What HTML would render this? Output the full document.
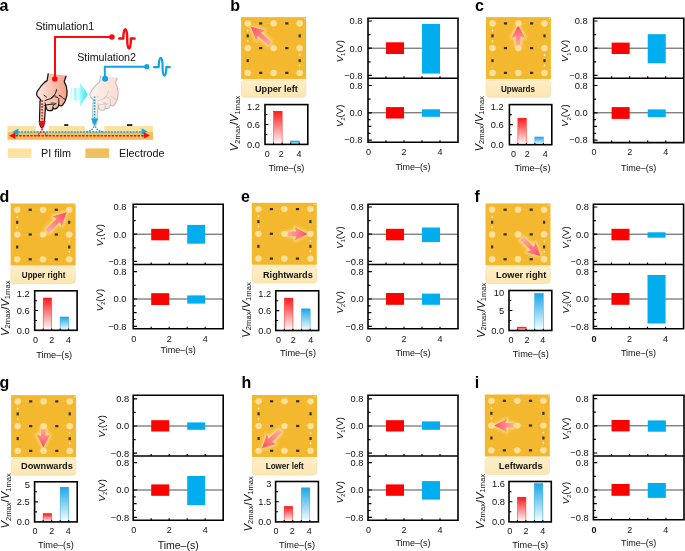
<!DOCTYPE html>
<html><head><meta charset="utf-8"><title>Figure</title>
<style>html,body{margin:0;padding:0;background:#fff;overflow:hidden;width:685px;height:551px;}svg{display:block;}</style></head>
<body><svg width="685" height="551" viewBox="0 0 685 551">
<defs>
<linearGradient id="gRed" x1="0" y1="0" x2="0" y2="1"><stop offset="0" stop-color="#FF1A1A"/><stop offset="1" stop-color="#FFFFFF"/></linearGradient>
<linearGradient id="gBlue" x1="0" y1="0" x2="0" y2="1"><stop offset="0" stop-color="#1AA7E6"/><stop offset="1" stop-color="#FFFFFF"/></linearGradient>
<linearGradient id="gArrow" x1="0" y1="0" x2="1" y2="0"><stop offset="0" stop-color="#FFA9A3"/><stop offset="0.55" stop-color="#FF7A80"/><stop offset="1" stop-color="#FF4A62"/></linearGradient>
<linearGradient id="gLabel" x1="0" y1="0" x2="0" y2="1"><stop offset="0" stop-color="#FEEFC9"/><stop offset="1" stop-color="#FCE6B0"/></linearGradient>
<filter id="glow" x="-50%" y="-50%" width="200%" height="200%"><feGaussianBlur stdDeviation="1.6"/></filter>
<linearGradient id="gHand1" x1="0" y1="0" x2="1" y2="0"><stop offset="0" stop-color="#FDE6DA"/><stop offset="1" stop-color="#F5A187"/></linearGradient>
<linearGradient id="gHand2" x1="0" y1="0" x2="1" y2="0"><stop offset="0" stop-color="#FEF4EE"/><stop offset="1" stop-color="#FCDCCF"/></linearGradient>
<linearGradient id="gChev" x1="0" y1="0" x2="1" y2="0"><stop offset="0" stop-color="#C8FFFF"/><stop offset="1" stop-color="#22E5F5"/></linearGradient>
</defs>
<rect width="685" height="551" fill="#fff"/>
<text x="230.2" y="10.9" font-family="'Liberation Sans', Arial, Helvetica, sans-serif" font-weight="bold" font-size="16" fill="#000">b</text>
<rect x="241.1" y="17.1" width="65" height="62" fill="#F4B82F"/>
<g stroke="#F7C24C" stroke-width="0.4" fill="none"><rect x="247.7" y="23.4" width="52" height="49.5"/><line x1="247.7" y1="48.1" x2="299.7" y2="48.1"/></g>
<g fill="#FFF4D0"><circle cx="247.7" cy="30.6" r="0.85"/><circle cx="247.7" cy="40.9" r="0.85"/><circle cx="299.7" cy="55.1" r="0.85"/><circle cx="299.7" cy="65.3" r="0.85"/><circle cx="304.6" cy="18.6" r="0.6"/></g>
<rect x="259.1" y="22.3" width="3.2" height="2.2" fill="#2C313B"/>
<rect x="285.2" y="22.3" width="3.2" height="2.2" fill="#2C313B"/>
<rect x="259.1" y="47" width="3.2" height="2.2" fill="#2C313B"/>
<rect x="285.2" y="47" width="3.2" height="2.2" fill="#2C313B"/>
<rect x="259.1" y="71.8" width="3.2" height="2.2" fill="#2C313B"/>
<rect x="285.2" y="71.8" width="3.2" height="2.2" fill="#2C313B"/>
<rect x="246.6" y="34.4" width="2.2" height="3" fill="#2C313B"/>
<rect x="246.6" y="59.1" width="2.2" height="3" fill="#2C313B"/>
<rect x="298.6" y="34.4" width="2.2" height="3" fill="#2C313B"/>
<rect x="298.6" y="59.1" width="2.2" height="3" fill="#2C313B"/>
<g transform="translate(270,43.7) rotate(-138.65)"><polygon points="0,-2.3 14.18,-2.3 12.58,-6.7 25.58,0 12.58,6.7 14.18,2.3 0,2.3" fill="#FFE7A0" stroke="#FFE7A0" stroke-width="2.2" stroke-linejoin="round" opacity="0.95" filter="url(#glow)"/><polygon points="0,-2.3 14.18,-2.3 12.58,-6.7 25.58,0 12.58,6.7 14.18,2.3 0,2.3" fill="url(#gArrow)"/></g>
<ellipse cx="247.7" cy="23.4" rx="3.3" ry="3.1" fill="#FDE09C"/>
<ellipse cx="273.6" cy="23.4" rx="3.3" ry="3.1" fill="#FDE09C"/>
<ellipse cx="299.7" cy="23.4" rx="3.3" ry="3.1" fill="#FDE09C"/>
<ellipse cx="247.7" cy="48.1" rx="3.3" ry="3.1" fill="#FDE09C"/>
<ellipse cx="273.6" cy="48.1" rx="3.3" ry="3.1" fill="#FDE09C"/>
<ellipse cx="299.7" cy="48.1" rx="3.3" ry="3.1" fill="#FDE09C"/>
<ellipse cx="247.7" cy="72.9" rx="3.3" ry="3.1" fill="#FDE09C"/>
<ellipse cx="273.6" cy="72.9" rx="3.3" ry="3.1" fill="#FDE09C"/>
<ellipse cx="299.7" cy="72.9" rx="3.3" ry="3.1" fill="#FDE09C"/>
<rect x="241.4" y="80.3" width="64.4" height="16.9" rx="3" ry="3" fill="url(#gLabel)" stroke="#EFD9A6" stroke-width="0.6"/>
<text x="254.9" y="91.8" font-family="'Liberation Sans', Arial, Helvetica, sans-serif" font-weight="bold" font-size="9" textLength="42.9" lengthAdjust="spacingAndGlyphs" fill="#111">Upper left</text>
<rect x="273.56" y="111.2" width="8.56" height="33.2" fill="url(#gRed)" stroke="#FF2020" stroke-width="0.5"/>
<line x1="273.56" y1="111.6" x2="282.12" y2="111.6" stroke="#FF2020" stroke-width="0.8"/>
<rect x="290.68" y="141" width="8.56" height="3.4" fill="url(#gBlue)" stroke="#20A8E8" stroke-width="0.5"/>
<line x1="290.68" y1="141.4" x2="299.24" y2="141.4" stroke="#20A8E8" stroke-width="0.8"/>
<path d="M265,114.55h2.4 M265,124.5h3.4 M265,134.45h2.4 M273.56,144.4v-1.8 M282.12,144.4v-1.8 M290.68,144.4v-1.8 M299.24,144.4v-1.8" stroke="#000" stroke-width="1.1" fill="none"/>
<rect x="265" y="104.6" width="42.8" height="39.8" fill="none" stroke="#000" stroke-width="1.6"/>
<text x="260" y="110.4" font-family="'Liberation Sans', Arial, Helvetica, sans-serif" font-size="9.3" text-anchor="end" fill="#111" >1.2</text>
<text x="260" y="127.8" font-family="'Liberation Sans', Arial, Helvetica, sans-serif" font-size="9.3" text-anchor="end" fill="#111" >0.6</text>
<text x="260" y="147.8" font-family="'Liberation Sans', Arial, Helvetica, sans-serif" font-size="9.3" text-anchor="end" fill="#111" >0.0</text>
<text x="267.3" y="156.9" font-family="'Liberation Sans', Arial, Helvetica, sans-serif" font-size="9" text-anchor="middle" fill="#111" >0</text>
<text x="281.22" y="156.9" font-family="'Liberation Sans', Arial, Helvetica, sans-serif" font-size="9" text-anchor="middle" fill="#111" >2</text>
<text x="299.04" y="156.9" font-family="'Liberation Sans', Arial, Helvetica, sans-serif" font-size="9" text-anchor="middle" fill="#111" >4</text>
<text x="286.4" y="171" font-family="'Liberation Sans', Arial, Helvetica, sans-serif" font-size="9.2" text-anchor="middle" fill="#111" >Time–(s)</text>
<text transform="translate(238.3,123.5) rotate(-90)" text-anchor="middle" font-family="'Liberation Sans', Arial, Helvetica, sans-serif" font-size="11.3" fill="#111"><tspan font-style="italic">V</tspan><tspan font-size="7.6" dy="1.2">2max</tspan><tspan dy="-1.2">/</tspan><tspan font-style="italic">V</tspan><tspan font-size="7.6" dy="1.2">1max</tspan></text>
<line x1="368" y1="48.2" x2="458" y2="48.2" stroke="#3a3a3a" stroke-width="0.9"/>
<line x1="368" y1="112.8" x2="458" y2="112.8" stroke="#3a3a3a" stroke-width="0.9"/>
<rect x="386" y="42.3" width="18" height="11.7" fill="#FF0000"/>
<rect x="422" y="23.9" width="18" height="49.7" fill="#00AEEF"/>
<rect x="386" y="107.1" width="18" height="11.4" fill="#FF0000"/>
<rect x="422" y="109.3" width="18" height="7.5" fill="#00AEEF"/>
<path d="M368,21h3.9 M368,34.6h2.5 M368,48.2h3.9 M368,61.8h2.5 M368,75.4h3.9 M368,85.5h3.9 M368,99.15h2.5 M368,112.8h3.9 M368,119.62h2.5 M368,126.45h3.4 M368,133.28h2.5 M368,140.1h3.9 M386,78.2v-2 M386,142.2v-2 M404,78.2v-2 M404,142.2v-2 M422,78.2v-2 M422,142.2v-2 M440,78.2v-2 M440,142.2v-2" stroke="#000" stroke-width="1.2" fill="none"/>
<path d="M368,18.2H458V142.2H368Z M368,78.2H458" stroke="#000" stroke-width="1.6" fill="none"/>
<text x="362.5" y="24.3" font-family="'Liberation Sans', Arial, Helvetica, sans-serif" font-size="9.3" text-anchor="end" fill="#111" >0.8</text>
<text x="362.5" y="51.5" font-family="'Liberation Sans', Arial, Helvetica, sans-serif" font-size="9.3" text-anchor="end" fill="#111" >0.0</text>
<text x="362.5" y="78.7" font-family="'Liberation Sans', Arial, Helvetica, sans-serif" font-size="9.3" text-anchor="end" fill="#111" >−0.8</text>
<text x="362.5" y="88.8" font-family="'Liberation Sans', Arial, Helvetica, sans-serif" font-size="9.3" text-anchor="end" fill="#111" >0.8</text>
<text x="362.5" y="116.1" font-family="'Liberation Sans', Arial, Helvetica, sans-serif" font-size="9.3" text-anchor="end" fill="#111" >0.0</text>
<text x="362.5" y="143.4" font-family="'Liberation Sans', Arial, Helvetica, sans-serif" font-size="9.3" text-anchor="end" fill="#111" >−0.8</text>
<text transform="translate(342.5,51.2) rotate(-90)" text-anchor="middle" font-family="'Liberation Sans', Arial, Helvetica, sans-serif" font-size="9.6" fill="#111"><tspan font-style="italic">V</tspan><tspan font-size="5.6" dy="2.2">1</tspan><tspan dy="-2.2">(V)</tspan></text>
<text transform="translate(342.5,115.8) rotate(-90)" text-anchor="middle" font-family="'Liberation Sans', Arial, Helvetica, sans-serif" font-size="9.6" fill="#111"><tspan font-style="italic">V</tspan><tspan font-size="5.6" dy="2.2">2</tspan><tspan dy="-2.2">(V)</tspan></text>
<text x="368.5" y="155" font-family="'Liberation Sans', Arial, Helvetica, sans-serif" font-size="9" text-anchor="middle" fill="#111" >0</text>
<text x="404" y="155" font-family="'Liberation Sans', Arial, Helvetica, sans-serif" font-size="9" text-anchor="middle" fill="#111" >2</text>
<text x="440" y="155" font-family="'Liberation Sans', Arial, Helvetica, sans-serif" font-size="9" text-anchor="middle" fill="#111" >4</text>
<text x="413" y="169.6" font-family="'Liberation Sans', Arial, Helvetica, sans-serif" font-size="9" text-anchor="middle" fill="#111" >Time–(s)</text>
<text x="475" y="11.3" font-family="'Liberation Sans', Arial, Helvetica, sans-serif" font-weight="bold" font-size="16" fill="#000">c</text>
<rect x="485.9" y="17.1" width="65" height="62" fill="#F4B82F"/>
<g stroke="#F7C24C" stroke-width="0.4" fill="none"><rect x="492.5" y="23.4" width="52" height="49.5"/><line x1="492.5" y1="48.1" x2="544.5" y2="48.1"/></g>
<g fill="#FFF4D0"><circle cx="492.5" cy="30.6" r="0.85"/><circle cx="492.5" cy="40.9" r="0.85"/><circle cx="544.5" cy="55.1" r="0.85"/><circle cx="544.5" cy="65.3" r="0.85"/><circle cx="549.4" cy="18.6" r="0.6"/></g>
<rect x="503.9" y="22.3" width="3.2" height="2.2" fill="#2C313B"/>
<rect x="530" y="22.3" width="3.2" height="2.2" fill="#2C313B"/>
<rect x="503.9" y="47" width="3.2" height="2.2" fill="#2C313B"/>
<rect x="530" y="47" width="3.2" height="2.2" fill="#2C313B"/>
<rect x="503.9" y="71.8" width="3.2" height="2.2" fill="#2C313B"/>
<rect x="530" y="71.8" width="3.2" height="2.2" fill="#2C313B"/>
<rect x="491.4" y="34.4" width="2.2" height="3" fill="#2C313B"/>
<rect x="491.4" y="59.1" width="2.2" height="3" fill="#2C313B"/>
<rect x="543.4" y="34.4" width="2.2" height="3" fill="#2C313B"/>
<rect x="543.4" y="59.1" width="2.2" height="3" fill="#2C313B"/>
<g transform="translate(518.2,45.2) rotate(-90)"><polygon points="0,-2.3 8.9,-2.3 7.3,-6.7 20.3,0 7.3,6.7 8.9,2.3 0,2.3" fill="#FFE7A0" stroke="#FFE7A0" stroke-width="2.2" stroke-linejoin="round" opacity="0.95" filter="url(#glow)"/><polygon points="0,-2.3 8.9,-2.3 7.3,-6.7 20.3,0 7.3,6.7 8.9,2.3 0,2.3" fill="url(#gArrow)"/></g>
<ellipse cx="492.5" cy="23.4" rx="3.3" ry="3.1" fill="#FDE09C"/>
<ellipse cx="518.4" cy="23.4" rx="3.3" ry="3.1" fill="#FDE09C"/>
<ellipse cx="544.5" cy="23.4" rx="3.3" ry="3.1" fill="#FDE09C"/>
<ellipse cx="492.5" cy="48.1" rx="3.3" ry="3.1" fill="#FDE09C"/>
<ellipse cx="518.4" cy="48.1" rx="3.3" ry="3.1" fill="#FDE09C"/>
<ellipse cx="544.5" cy="48.1" rx="3.3" ry="3.1" fill="#FDE09C"/>
<ellipse cx="492.5" cy="72.9" rx="3.3" ry="3.1" fill="#FDE09C"/>
<ellipse cx="518.4" cy="72.9" rx="3.3" ry="3.1" fill="#FDE09C"/>
<ellipse cx="544.5" cy="72.9" rx="3.3" ry="3.1" fill="#FDE09C"/>
<rect x="486.2" y="80.3" width="64.4" height="16.9" rx="3" ry="3" fill="url(#gLabel)" stroke="#EFD9A6" stroke-width="0.6"/>
<text x="501" y="91.7" font-family="'Liberation Sans', Arial, Helvetica, sans-serif" font-weight="bold" font-size="9" textLength="34" lengthAdjust="spacingAndGlyphs" fill="#111">Upwards</text>
<rect x="517.88" y="118.2" width="8.48" height="26.5" fill="url(#gRed)" stroke="#FF2020" stroke-width="0.5"/>
<line x1="517.88" y1="118.6" x2="526.36" y2="118.6" stroke="#FF2020" stroke-width="0.8"/>
<rect x="534.84" y="137" width="8.48" height="7.7" fill="url(#gBlue)" stroke="#20A8E8" stroke-width="0.5"/>
<line x1="534.84" y1="137.4" x2="543.32" y2="137.4" stroke="#20A8E8" stroke-width="0.8"/>
<path d="M509.4,114.62h2.4 M509.4,124.65h3.4 M509.4,134.67h2.4 M517.88,144.7v-1.8 M526.36,144.7v-1.8 M534.84,144.7v-1.8 M543.32,144.7v-1.8" stroke="#000" stroke-width="1.1" fill="none"/>
<rect x="509.4" y="104.6" width="42.4" height="40.1" fill="none" stroke="#000" stroke-width="1.6"/>
<text x="503.6" y="110.4" font-family="'Liberation Sans', Arial, Helvetica, sans-serif" font-size="9.3" text-anchor="end" fill="#111" >1.2</text>
<text x="503.6" y="127.95" font-family="'Liberation Sans', Arial, Helvetica, sans-serif" font-size="9.3" text-anchor="end" fill="#111" >0.6</text>
<text x="503.6" y="148.1" font-family="'Liberation Sans', Arial, Helvetica, sans-serif" font-size="9.3" text-anchor="end" fill="#111" >0.0</text>
<text x="513.5" y="157.2" font-family="'Liberation Sans', Arial, Helvetica, sans-serif" font-size="9" text-anchor="middle" fill="#111" >0</text>
<text x="527.36" y="157.2" font-family="'Liberation Sans', Arial, Helvetica, sans-serif" font-size="9" text-anchor="middle" fill="#111" >2</text>
<text x="545.22" y="157.2" font-family="'Liberation Sans', Arial, Helvetica, sans-serif" font-size="9" text-anchor="middle" fill="#111" >4</text>
<text x="532.5" y="171.4" font-family="'Liberation Sans', Arial, Helvetica, sans-serif" font-size="9.2" text-anchor="middle" fill="#111" >Time–(s)</text>
<text transform="translate(482.7,123.75) rotate(-90)" text-anchor="middle" font-family="'Liberation Sans', Arial, Helvetica, sans-serif" font-size="11.3" fill="#111"><tspan font-style="italic">V</tspan><tspan font-size="7.6" dy="1.2">2max</tspan><tspan dy="-1.2">/</tspan><tspan font-style="italic">V</tspan><tspan font-size="7.6" dy="1.2">1max</tspan></text>
<line x1="593.6" y1="48.2" x2="683.8" y2="48.2" stroke="#3a3a3a" stroke-width="0.9"/>
<line x1="593.6" y1="112.8" x2="683.8" y2="112.8" stroke="#3a3a3a" stroke-width="0.9"/>
<rect x="611.64" y="42.6" width="18.04" height="11.4" fill="#FF0000"/>
<rect x="647.72" y="34.2" width="18.04" height="29.1" fill="#00AEEF"/>
<rect x="611.64" y="107.1" width="18.04" height="11.8" fill="#FF0000"/>
<rect x="647.72" y="109.4" width="18.04" height="7.7" fill="#00AEEF"/>
<path d="M593.6,21h3.9 M593.6,34.6h2.5 M593.6,48.2h3.9 M593.6,61.8h2.5 M593.6,75.4h3.9 M593.6,85.5h3.9 M593.6,99.15h2.5 M593.6,112.8h3.9 M593.6,119.62h2.5 M593.6,126.45h3.4 M593.6,133.28h2.5 M593.6,140.1h3.9 M611.64,78.2v-2 M611.64,142.6v-2 M629.68,78.2v-2 M629.68,142.6v-2 M647.72,78.2v-2 M647.72,142.6v-2 M665.76,78.2v-2 M665.76,142.6v-2" stroke="#000" stroke-width="1.2" fill="none"/>
<path d="M593.6,18.2H683.8V142.6H593.6Z M593.6,78.2H683.8" stroke="#000" stroke-width="1.6" fill="none"/>
<text x="587.6" y="24.3" font-family="'Liberation Sans', Arial, Helvetica, sans-serif" font-size="9.3" text-anchor="end" fill="#111" >0.8</text>
<text x="587.6" y="51.5" font-family="'Liberation Sans', Arial, Helvetica, sans-serif" font-size="9.3" text-anchor="end" fill="#111" >0.0</text>
<text x="587.6" y="78.7" font-family="'Liberation Sans', Arial, Helvetica, sans-serif" font-size="9.3" text-anchor="end" fill="#111" >−0.8</text>
<text x="587.6" y="88.8" font-family="'Liberation Sans', Arial, Helvetica, sans-serif" font-size="9.3" text-anchor="end" fill="#111" >0.8</text>
<text x="587.6" y="116.1" font-family="'Liberation Sans', Arial, Helvetica, sans-serif" font-size="9.3" text-anchor="end" fill="#111" >0.0</text>
<text x="587.6" y="143.4" font-family="'Liberation Sans', Arial, Helvetica, sans-serif" font-size="9.3" text-anchor="end" fill="#111" >−0.8</text>
<text transform="translate(568.4,50.9) rotate(-90)" text-anchor="middle" font-family="'Liberation Sans', Arial, Helvetica, sans-serif" font-size="9.6" fill="#111"><tspan font-style="italic">V</tspan><tspan font-size="5.6" dy="2.2">1</tspan><tspan dy="-2.2">(V)</tspan></text>
<text transform="translate(568.4,115.5) rotate(-90)" text-anchor="middle" font-family="'Liberation Sans', Arial, Helvetica, sans-serif" font-size="9.6" fill="#111"><tspan font-style="italic">V</tspan><tspan font-size="5.6" dy="2.2">2</tspan><tspan dy="-2.2">(V)</tspan></text>
<text x="594.1" y="155.4" font-family="'Liberation Sans', Arial, Helvetica, sans-serif" font-size="9" text-anchor="middle" fill="#111" >0</text>
<text x="629.68" y="155.4" font-family="'Liberation Sans', Arial, Helvetica, sans-serif" font-size="9" text-anchor="middle" fill="#111" >2</text>
<text x="665.76" y="155.4" font-family="'Liberation Sans', Arial, Helvetica, sans-serif" font-size="9" text-anchor="middle" fill="#111" >4</text>
<text x="638.7" y="171" font-family="'Liberation Sans', Arial, Helvetica, sans-serif" font-size="9" text-anchor="middle" fill="#111" >Time–(s)</text>
<text x="-0.6" y="201.9" font-family="'Liberation Sans', Arial, Helvetica, sans-serif" font-weight="bold" font-size="16" fill="#000">d</text>
<rect x="10.6" y="203.5" width="65" height="62" fill="#F4B82F"/>
<g stroke="#F7C24C" stroke-width="0.4" fill="none"><rect x="17.2" y="209.8" width="52" height="49.5"/><line x1="17.2" y1="234.5" x2="69.2" y2="234.5"/></g>
<g fill="#FFF4D0"><circle cx="17.2" cy="217" r="0.85"/><circle cx="17.2" cy="227.3" r="0.85"/><circle cx="69.2" cy="241.5" r="0.85"/><circle cx="69.2" cy="251.7" r="0.85"/><circle cx="74.1" cy="205" r="0.6"/></g>
<rect x="28.6" y="208.7" width="3.2" height="2.2" fill="#2C313B"/>
<rect x="54.7" y="208.7" width="3.2" height="2.2" fill="#2C313B"/>
<rect x="28.6" y="233.4" width="3.2" height="2.2" fill="#2C313B"/>
<rect x="54.7" y="233.4" width="3.2" height="2.2" fill="#2C313B"/>
<rect x="28.6" y="258.2" width="3.2" height="2.2" fill="#2C313B"/>
<rect x="54.7" y="258.2" width="3.2" height="2.2" fill="#2C313B"/>
<rect x="16.1" y="220.8" width="2.2" height="3" fill="#2C313B"/>
<rect x="16.1" y="245.5" width="2.2" height="3" fill="#2C313B"/>
<rect x="68.1" y="220.8" width="2.2" height="3" fill="#2C313B"/>
<rect x="68.1" y="245.5" width="2.2" height="3" fill="#2C313B"/>
<g transform="translate(46.8,231.4) rotate(-44.11)"><polygon points="0,-2.3 16.04,-2.3 14.44,-6.7 27.44,0 14.44,6.7 16.04,2.3 0,2.3" fill="#FFE7A0" stroke="#FFE7A0" stroke-width="2.2" stroke-linejoin="round" opacity="0.95" filter="url(#glow)"/><polygon points="0,-2.3 16.04,-2.3 14.44,-6.7 27.44,0 14.44,6.7 16.04,2.3 0,2.3" fill="url(#gArrow)"/></g>
<ellipse cx="17.2" cy="209.8" rx="3.3" ry="3.1" fill="#FDE09C"/>
<ellipse cx="43.1" cy="209.8" rx="3.3" ry="3.1" fill="#FDE09C"/>
<ellipse cx="69.2" cy="209.8" rx="3.3" ry="3.1" fill="#FDE09C"/>
<ellipse cx="17.2" cy="234.5" rx="3.3" ry="3.1" fill="#FDE09C"/>
<ellipse cx="43.1" cy="234.5" rx="3.3" ry="3.1" fill="#FDE09C"/>
<ellipse cx="69.2" cy="234.5" rx="3.3" ry="3.1" fill="#FDE09C"/>
<ellipse cx="17.2" cy="259.3" rx="3.3" ry="3.1" fill="#FDE09C"/>
<ellipse cx="43.1" cy="259.3" rx="3.3" ry="3.1" fill="#FDE09C"/>
<ellipse cx="69.2" cy="259.3" rx="3.3" ry="3.1" fill="#FDE09C"/>
<rect x="10.9" y="266.7" width="64.4" height="16.9" rx="3" ry="3" fill="url(#gLabel)" stroke="#EFD9A6" stroke-width="0.6"/>
<text x="21.8" y="278" font-family="'Liberation Sans', Arial, Helvetica, sans-serif" font-weight="bold" font-size="9" textLength="43.6" lengthAdjust="spacingAndGlyphs" fill="#111">Upper right</text>
<rect x="43.18" y="298" width="8.48" height="32.3" fill="url(#gRed)" stroke="#FF2020" stroke-width="0.5"/>
<line x1="43.18" y1="298.4" x2="51.66" y2="298.4" stroke="#FF2020" stroke-width="0.8"/>
<rect x="60.14" y="317" width="8.48" height="13.3" fill="url(#gBlue)" stroke="#20A8E8" stroke-width="0.5"/>
<line x1="60.14" y1="317.4" x2="68.62" y2="317.4" stroke="#20A8E8" stroke-width="0.8"/>
<path d="M34.7,300.68h2.4 M34.7,310.55h3.4 M34.7,320.43h2.4 M43.18,330.3v-1.8 M51.66,330.3v-1.8 M60.14,330.3v-1.8 M68.62,330.3v-1.8" stroke="#000" stroke-width="1.1" fill="none"/>
<rect x="34.7" y="290.8" width="42.4" height="39.5" fill="none" stroke="#000" stroke-width="1.6"/>
<text x="29.7" y="296.6" font-family="'Liberation Sans', Arial, Helvetica, sans-serif" font-size="9.3" text-anchor="end" fill="#111" >1.2</text>
<text x="29.7" y="313.85" font-family="'Liberation Sans', Arial, Helvetica, sans-serif" font-size="9.3" text-anchor="end" fill="#111" >0.6</text>
<text x="29.7" y="333.7" font-family="'Liberation Sans', Arial, Helvetica, sans-serif" font-size="9.3" text-anchor="end" fill="#111" >0.0</text>
<text x="35.5" y="342.8" font-family="'Liberation Sans', Arial, Helvetica, sans-serif" font-size="9" text-anchor="middle" fill="#111" >0</text>
<text x="51.66" y="342.8" font-family="'Liberation Sans', Arial, Helvetica, sans-serif" font-size="9" text-anchor="middle" fill="#111" >2</text>
<text x="68.62" y="342.8" font-family="'Liberation Sans', Arial, Helvetica, sans-serif" font-size="9" text-anchor="middle" fill="#111" >4</text>
<text x="54.1" y="357.8" font-family="'Liberation Sans', Arial, Helvetica, sans-serif" font-size="9.2" text-anchor="middle" fill="#111" >Time–(s)</text>
<text transform="translate(8.8,308.25) rotate(-90)" text-anchor="middle" font-family="'Liberation Sans', Arial, Helvetica, sans-serif" font-size="11.3" fill="#111"><tspan font-style="italic">V</tspan><tspan font-size="7.6" dy="1.2">2max</tspan><tspan dy="-1.2">/</tspan><tspan font-style="italic">V</tspan><tspan font-size="7.6" dy="1.2">1max</tspan></text>
<line x1="133.2" y1="234.2" x2="223.2" y2="234.2" stroke="#3a3a3a" stroke-width="0.9"/>
<line x1="133.2" y1="299" x2="223.2" y2="299" stroke="#3a3a3a" stroke-width="0.9"/>
<rect x="151.2" y="228.8" width="18" height="11.5" fill="#FF0000"/>
<rect x="187.2" y="224.9" width="18" height="18.8" fill="#00AEEF"/>
<rect x="151.2" y="293.2" width="18" height="11.8" fill="#FF0000"/>
<rect x="187.2" y="295.4" width="18" height="8.2" fill="#00AEEF"/>
<path d="M133.2,207h3.9 M133.2,220.6h2.5 M133.2,234.2h3.9 M133.2,247.8h2.5 M133.2,261.4h3.9 M133.2,271.7h3.9 M133.2,285.35h2.5 M133.2,299h3.9 M133.2,305.82h2.5 M133.2,312.65h3.4 M133.2,319.48h2.5 M133.2,326.3h3.9 M151.2,264.5v-2 M151.2,328.8v-2 M169.2,264.5v-2 M169.2,328.8v-2 M187.2,264.5v-2 M187.2,328.8v-2 M205.2,264.5v-2 M205.2,328.8v-2" stroke="#000" stroke-width="1.2" fill="none"/>
<path d="M133.2,204.2H223.2V328.8H133.2Z M133.2,264.5H223.2" stroke="#000" stroke-width="1.6" fill="none"/>
<text x="126.5" y="210.3" font-family="'Liberation Sans', Arial, Helvetica, sans-serif" font-size="9.3" text-anchor="end" fill="#111" >0.8</text>
<text x="126.5" y="237.5" font-family="'Liberation Sans', Arial, Helvetica, sans-serif" font-size="9.3" text-anchor="end" fill="#111" >0.0</text>
<text x="126.5" y="264.7" font-family="'Liberation Sans', Arial, Helvetica, sans-serif" font-size="9.3" text-anchor="end" fill="#111" >−0.8</text>
<text x="126.5" y="275" font-family="'Liberation Sans', Arial, Helvetica, sans-serif" font-size="9.3" text-anchor="end" fill="#111" >0.8</text>
<text x="126.5" y="302.3" font-family="'Liberation Sans', Arial, Helvetica, sans-serif" font-size="9.3" text-anchor="end" fill="#111" >0.0</text>
<text x="126.5" y="329.6" font-family="'Liberation Sans', Arial, Helvetica, sans-serif" font-size="9.3" text-anchor="end" fill="#111" >−0.8</text>
<text transform="translate(102.9,235.2) rotate(-90)" text-anchor="middle" font-family="'Liberation Sans', Arial, Helvetica, sans-serif" font-size="9.6" fill="#111"><tspan font-style="italic">V</tspan><tspan font-size="5.6" dy="2.2">1</tspan><tspan dy="-2.2">(V)</tspan></text>
<text transform="translate(102.9,300) rotate(-90)" text-anchor="middle" font-family="'Liberation Sans', Arial, Helvetica, sans-serif" font-size="9.6" fill="#111"><tspan font-style="italic">V</tspan><tspan font-size="5.6" dy="2.2">2</tspan><tspan dy="-2.2">(V)</tspan></text>
<text x="133.7" y="341.6" font-family="'Liberation Sans', Arial, Helvetica, sans-serif" font-size="9" text-anchor="middle" fill="#111" >0</text>
<text x="169.2" y="341.6" font-family="'Liberation Sans', Arial, Helvetica, sans-serif" font-size="9" text-anchor="middle" fill="#111" >2</text>
<text x="205.2" y="341.6" font-family="'Liberation Sans', Arial, Helvetica, sans-serif" font-size="9" text-anchor="middle" fill="#111" >4</text>
<text x="178.2" y="352.7" font-family="'Liberation Sans', Arial, Helvetica, sans-serif" font-size="9" text-anchor="middle" fill="#111" >Time–(s)</text>
<text x="241" y="202.1" font-family="'Liberation Sans', Arial, Helvetica, sans-serif" font-weight="bold" font-size="16" fill="#000">e</text>
<rect x="251.8" y="202.8" width="65" height="62" fill="#F4B82F"/>
<g stroke="#F7C24C" stroke-width="0.4" fill="none"><rect x="258.4" y="209.1" width="52" height="49.5"/><line x1="258.4" y1="233.8" x2="310.4" y2="233.8"/></g>
<g fill="#FFF4D0"><circle cx="258.4" cy="216.3" r="0.85"/><circle cx="258.4" cy="226.6" r="0.85"/><circle cx="310.4" cy="240.8" r="0.85"/><circle cx="310.4" cy="251" r="0.85"/><circle cx="315.3" cy="204.3" r="0.6"/></g>
<rect x="269.8" y="208" width="3.2" height="2.2" fill="#2C313B"/>
<rect x="295.9" y="208" width="3.2" height="2.2" fill="#2C313B"/>
<rect x="269.8" y="232.7" width="3.2" height="2.2" fill="#2C313B"/>
<rect x="295.9" y="232.7" width="3.2" height="2.2" fill="#2C313B"/>
<rect x="269.8" y="257.5" width="3.2" height="2.2" fill="#2C313B"/>
<rect x="295.9" y="257.5" width="3.2" height="2.2" fill="#2C313B"/>
<rect x="257.3" y="220.1" width="2.2" height="3" fill="#2C313B"/>
<rect x="257.3" y="244.8" width="2.2" height="3" fill="#2C313B"/>
<rect x="309.3" y="220.1" width="2.2" height="3" fill="#2C313B"/>
<rect x="309.3" y="244.8" width="2.2" height="3" fill="#2C313B"/>
<g transform="translate(287.7,233.9) rotate(0)"><polygon points="0,-2.3 8.6,-2.3 7,-6.7 20,0 7,6.7 8.6,2.3 0,2.3" fill="#FFE7A0" stroke="#FFE7A0" stroke-width="2.2" stroke-linejoin="round" opacity="0.95" filter="url(#glow)"/><polygon points="0,-2.3 8.6,-2.3 7,-6.7 20,0 7,6.7 8.6,2.3 0,2.3" fill="url(#gArrow)"/></g>
<ellipse cx="258.4" cy="209.1" rx="3.3" ry="3.1" fill="#FDE09C"/>
<ellipse cx="284.3" cy="209.1" rx="3.3" ry="3.1" fill="#FDE09C"/>
<ellipse cx="310.4" cy="209.1" rx="3.3" ry="3.1" fill="#FDE09C"/>
<ellipse cx="258.4" cy="233.8" rx="3.3" ry="3.1" fill="#FDE09C"/>
<ellipse cx="284.3" cy="233.8" rx="3.3" ry="3.1" fill="#FDE09C"/>
<ellipse cx="310.4" cy="233.8" rx="3.3" ry="3.1" fill="#FDE09C"/>
<ellipse cx="258.4" cy="258.6" rx="3.3" ry="3.1" fill="#FDE09C"/>
<ellipse cx="284.3" cy="258.6" rx="3.3" ry="3.1" fill="#FDE09C"/>
<ellipse cx="310.4" cy="258.6" rx="3.3" ry="3.1" fill="#FDE09C"/>
<rect x="252.1" y="266" width="64.4" height="16.9" rx="3" ry="3" fill="url(#gLabel)" stroke="#EFD9A6" stroke-width="0.6"/>
<text x="263" y="277.9" font-family="'Liberation Sans', Arial, Helvetica, sans-serif" font-weight="bold" font-size="9" textLength="49.8" lengthAdjust="spacingAndGlyphs" fill="#111">Rightwards</text>
<rect x="284.38" y="298.1" width="8.58" height="32.4" fill="url(#gRed)" stroke="#FF2020" stroke-width="0.5"/>
<line x1="284.38" y1="298.5" x2="292.96" y2="298.5" stroke="#FF2020" stroke-width="0.8"/>
<rect x="301.54" y="308.9" width="8.58" height="21.6" fill="url(#gBlue)" stroke="#20A8E8" stroke-width="0.5"/>
<line x1="301.54" y1="309.3" x2="310.12" y2="309.3" stroke="#20A8E8" stroke-width="0.8"/>
<path d="M275.8,300.73h2.4 M275.8,310.65h3.4 M275.8,320.57h2.4 M284.38,330.5v-1.8 M292.96,330.5v-1.8 M301.54,330.5v-1.8 M310.12,330.5v-1.8" stroke="#000" stroke-width="1.1" fill="none"/>
<rect x="275.8" y="290.8" width="42.9" height="39.7" fill="none" stroke="#000" stroke-width="1.6"/>
<text x="271.3" y="296.6" font-family="'Liberation Sans', Arial, Helvetica, sans-serif" font-size="9.3" text-anchor="end" fill="#111" >1.2</text>
<text x="271.3" y="313.95" font-family="'Liberation Sans', Arial, Helvetica, sans-serif" font-size="9.3" text-anchor="end" fill="#111" >0.6</text>
<text x="271.3" y="333.9" font-family="'Liberation Sans', Arial, Helvetica, sans-serif" font-size="9.3" text-anchor="end" fill="#111" >0.0</text>
<text x="278.6" y="343" font-family="'Liberation Sans', Arial, Helvetica, sans-serif" font-size="9" text-anchor="middle" fill="#111" >0</text>
<text x="293.26" y="343" font-family="'Liberation Sans', Arial, Helvetica, sans-serif" font-size="9" text-anchor="middle" fill="#111" >2</text>
<text x="310.72" y="343" font-family="'Liberation Sans', Arial, Helvetica, sans-serif" font-size="9" text-anchor="middle" fill="#111" >4</text>
<text x="298.05" y="356" font-family="'Liberation Sans', Arial, Helvetica, sans-serif" font-size="9.2" text-anchor="middle" fill="#111" >Time–(s)</text>
<text transform="translate(249.6,310) rotate(-90)" text-anchor="middle" font-family="'Liberation Sans', Arial, Helvetica, sans-serif" font-size="11.3" fill="#111"><tspan font-style="italic">V</tspan><tspan font-size="7.6" dy="1.2">2max</tspan><tspan dy="-1.2">/</tspan><tspan font-style="italic">V</tspan><tspan font-size="7.6" dy="1.2">1max</tspan></text>
<line x1="368" y1="234.2" x2="458" y2="234.2" stroke="#3a3a3a" stroke-width="0.9"/>
<line x1="368" y1="299" x2="458" y2="299" stroke="#3a3a3a" stroke-width="0.9"/>
<rect x="386" y="228.8" width="18" height="11.5" fill="#FF0000"/>
<rect x="422" y="227.5" width="18" height="14.6" fill="#00AEEF"/>
<rect x="386" y="293" width="18" height="11.8" fill="#FF0000"/>
<rect x="422" y="293.6" width="18" height="11.2" fill="#00AEEF"/>
<path d="M368,207h3.9 M368,220.6h2.5 M368,234.2h3.9 M368,247.8h2.5 M368,261.4h3.9 M368,271.7h3.9 M368,285.35h2.5 M368,299h3.9 M368,305.82h2.5 M368,312.65h3.4 M368,319.48h2.5 M368,326.3h3.9 M386,264.5v-2 M386,328.8v-2 M404,264.5v-2 M404,328.8v-2 M422,264.5v-2 M422,328.8v-2 M440,264.5v-2 M440,328.8v-2" stroke="#000" stroke-width="1.2" fill="none"/>
<path d="M368,204.2H458V328.8H368Z M368,264.5H458" stroke="#000" stroke-width="1.6" fill="none"/>
<text x="363.8" y="210.3" font-family="'Liberation Sans', Arial, Helvetica, sans-serif" font-size="9.3" text-anchor="end" fill="#111" >0.8</text>
<text x="363.8" y="237.5" font-family="'Liberation Sans', Arial, Helvetica, sans-serif" font-size="9.3" text-anchor="end" fill="#111" >0.0</text>
<text x="363.8" y="264.7" font-family="'Liberation Sans', Arial, Helvetica, sans-serif" font-size="9.3" text-anchor="end" fill="#111" >−0.8</text>
<text x="363.8" y="275" font-family="'Liberation Sans', Arial, Helvetica, sans-serif" font-size="9.3" text-anchor="end" fill="#111" >0.8</text>
<text x="363.8" y="302.3" font-family="'Liberation Sans', Arial, Helvetica, sans-serif" font-size="9.3" text-anchor="end" fill="#111" >0.0</text>
<text x="363.8" y="329.6" font-family="'Liberation Sans', Arial, Helvetica, sans-serif" font-size="9.3" text-anchor="end" fill="#111" >−0.8</text>
<text transform="translate(343.2,237.5) rotate(-90)" text-anchor="middle" font-family="'Liberation Sans', Arial, Helvetica, sans-serif" font-size="9.6" fill="#111"><tspan font-style="italic">V</tspan><tspan font-size="5.6" dy="2.2">1</tspan><tspan dy="-2.2">(V)</tspan></text>
<text transform="translate(343.2,302.3) rotate(-90)" text-anchor="middle" font-family="'Liberation Sans', Arial, Helvetica, sans-serif" font-size="9.6" fill="#111"><tspan font-style="italic">V</tspan><tspan font-size="5.6" dy="2.2">2</tspan><tspan dy="-2.2">(V)</tspan></text>
<text x="368.5" y="341.6" font-family="'Liberation Sans', Arial, Helvetica, sans-serif" font-size="9" text-anchor="middle" fill="#111" >0</text>
<text x="404" y="341.6" font-family="'Liberation Sans', Arial, Helvetica, sans-serif" font-size="9" text-anchor="middle" fill="#111" >2</text>
<text x="440" y="341.6" font-family="'Liberation Sans', Arial, Helvetica, sans-serif" font-size="9" text-anchor="middle" fill="#111" >4</text>
<text x="413" y="356.1" font-family="'Liberation Sans', Arial, Helvetica, sans-serif" font-size="9" text-anchor="middle" fill="#111" >Time–(s)</text>
<text x="474.5" y="201.9" font-family="'Liberation Sans', Arial, Helvetica, sans-serif" font-weight="bold" font-size="16" fill="#000">f</text>
<rect x="485.5" y="203.4" width="65" height="62" fill="#F4B82F"/>
<g stroke="#F7C24C" stroke-width="0.4" fill="none"><rect x="492.1" y="209.7" width="52" height="49.5"/><line x1="492.1" y1="234.4" x2="544.1" y2="234.4"/></g>
<g fill="#FFF4D0"><circle cx="492.1" cy="216.9" r="0.85"/><circle cx="492.1" cy="227.2" r="0.85"/><circle cx="544.1" cy="241.4" r="0.85"/><circle cx="544.1" cy="251.6" r="0.85"/><circle cx="549" cy="204.9" r="0.6"/></g>
<rect x="503.5" y="208.6" width="3.2" height="2.2" fill="#2C313B"/>
<rect x="529.6" y="208.6" width="3.2" height="2.2" fill="#2C313B"/>
<rect x="503.5" y="233.3" width="3.2" height="2.2" fill="#2C313B"/>
<rect x="529.6" y="233.3" width="3.2" height="2.2" fill="#2C313B"/>
<rect x="503.5" y="258.1" width="3.2" height="2.2" fill="#2C313B"/>
<rect x="529.6" y="258.1" width="3.2" height="2.2" fill="#2C313B"/>
<rect x="491" y="220.7" width="2.2" height="3" fill="#2C313B"/>
<rect x="491" y="245.4" width="2.2" height="3" fill="#2C313B"/>
<rect x="543" y="220.7" width="2.2" height="3" fill="#2C313B"/>
<rect x="543" y="245.4" width="2.2" height="3" fill="#2C313B"/>
<g transform="translate(521.7,238.5) rotate(42.96)"><polygon points="0,-2.3 14.43,-2.3 12.83,-6.7 25.83,0 12.83,6.7 14.43,2.3 0,2.3" fill="#FFE7A0" stroke="#FFE7A0" stroke-width="2.2" stroke-linejoin="round" opacity="0.95" filter="url(#glow)"/><polygon points="0,-2.3 14.43,-2.3 12.83,-6.7 25.83,0 12.83,6.7 14.43,2.3 0,2.3" fill="url(#gArrow)"/></g>
<ellipse cx="492.1" cy="209.7" rx="3.3" ry="3.1" fill="#FDE09C"/>
<ellipse cx="518" cy="209.7" rx="3.3" ry="3.1" fill="#FDE09C"/>
<ellipse cx="544.1" cy="209.7" rx="3.3" ry="3.1" fill="#FDE09C"/>
<ellipse cx="492.1" cy="234.4" rx="3.3" ry="3.1" fill="#FDE09C"/>
<ellipse cx="518" cy="234.4" rx="3.3" ry="3.1" fill="#FDE09C"/>
<ellipse cx="544.1" cy="234.4" rx="3.3" ry="3.1" fill="#FDE09C"/>
<ellipse cx="492.1" cy="259.2" rx="3.3" ry="3.1" fill="#FDE09C"/>
<ellipse cx="518" cy="259.2" rx="3.3" ry="3.1" fill="#FDE09C"/>
<ellipse cx="544.1" cy="259.2" rx="3.3" ry="3.1" fill="#FDE09C"/>
<rect x="485.8" y="266.6" width="64.4" height="16.9" rx="3" ry="3" fill="url(#gLabel)" stroke="#EFD9A6" stroke-width="0.6"/>
<text x="496" y="277.9" font-family="'Liberation Sans', Arial, Helvetica, sans-serif" font-weight="bold" font-size="9" textLength="50.3" lengthAdjust="spacingAndGlyphs" fill="#111">Lower right</text>
<rect x="517.56" y="327.1" width="8.56" height="3.4" fill="url(#gRed)" stroke="#FF2020" stroke-width="0.5"/>
<line x1="517.56" y1="327.5" x2="526.12" y2="327.5" stroke="#FF2020" stroke-width="0.8"/>
<rect x="534.68" y="293.6" width="8.56" height="36.9" fill="url(#gBlue)" stroke="#20A8E8" stroke-width="0.5"/>
<line x1="534.68" y1="294" x2="543.24" y2="294" stroke="#20A8E8" stroke-width="0.8"/>
<path d="M509,300.5h2.4 M509,310.5h3.4 M509,320.5h2.4 M517.56,330.5v-1.8 M526.12,330.5v-1.8 M534.68,330.5v-1.8 M543.24,330.5v-1.8" stroke="#000" stroke-width="1.1" fill="none"/>
<rect x="509" y="290.5" width="42.8" height="40" fill="none" stroke="#000" stroke-width="1.6"/>
<text x="504.1" y="296.3" font-family="'Liberation Sans', Arial, Helvetica, sans-serif" font-size="9.3" text-anchor="end" fill="#111" >10</text>
<text x="504.1" y="313.8" font-family="'Liberation Sans', Arial, Helvetica, sans-serif" font-size="9.3" text-anchor="end" fill="#111" >5</text>
<text x="504.1" y="333.9" font-family="'Liberation Sans', Arial, Helvetica, sans-serif" font-size="9.3" text-anchor="end" fill="#111" >0.0</text>
<text x="510.9" y="343" font-family="'Liberation Sans', Arial, Helvetica, sans-serif" font-size="9" text-anchor="middle" fill="#111" >0</text>
<text x="527.12" y="343" font-family="'Liberation Sans', Arial, Helvetica, sans-serif" font-size="9" text-anchor="middle" fill="#111" >2</text>
<text x="542.64" y="343" font-family="'Liberation Sans', Arial, Helvetica, sans-serif" font-size="9" text-anchor="middle" fill="#111" >4</text>
<text x="530.8" y="356.7" font-family="'Liberation Sans', Arial, Helvetica, sans-serif" font-size="9.2" text-anchor="middle" fill="#111" >Time–(s)</text>
<text transform="translate(484.7,310.3) rotate(-90)" text-anchor="middle" font-family="'Liberation Sans', Arial, Helvetica, sans-serif" font-size="11.3" fill="#111"><tspan font-style="italic">V</tspan><tspan font-size="7.6" dy="1.2">2max</tspan><tspan dy="-1.2">/</tspan><tspan font-style="italic">V</tspan><tspan font-size="7.6" dy="1.2">1max</tspan></text>
<line x1="593.4" y1="234.2" x2="683.6" y2="234.2" stroke="#3a3a3a" stroke-width="0.9"/>
<line x1="593.4" y1="299" x2="683.6" y2="299" stroke="#3a3a3a" stroke-width="0.9"/>
<rect x="611.44" y="228.8" width="18.04" height="11.5" fill="#FF0000"/>
<rect x="647.52" y="232.3" width="18.04" height="5.4" fill="#00AEEF"/>
<rect x="611.44" y="293" width="18.04" height="11.8" fill="#FF0000"/>
<rect x="647.52" y="275" width="18.04" height="48.5" fill="#00AEEF"/>
<path d="M593.4,207h3.9 M593.4,220.6h2.5 M593.4,234.2h3.9 M593.4,247.8h2.5 M593.4,261.4h3.9 M593.4,271.7h3.9 M593.4,285.35h2.5 M593.4,299h3.9 M593.4,305.82h2.5 M593.4,312.65h3.4 M593.4,319.48h2.5 M593.4,326.3h3.9 M611.44,264.5v-2 M611.44,328.8v-2 M629.48,264.5v-2 M629.48,328.8v-2 M647.52,264.5v-2 M647.52,328.8v-2 M665.56,264.5v-2 M665.56,328.8v-2" stroke="#000" stroke-width="1.2" fill="none"/>
<path d="M593.4,204.2H683.6V328.8H593.4Z M593.4,264.5H683.6" stroke="#000" stroke-width="1.6" fill="none"/>
<text x="588.9" y="210.3" font-family="'Liberation Sans', Arial, Helvetica, sans-serif" font-size="9.3" text-anchor="end" fill="#111" >0.8</text>
<text x="588.9" y="237.5" font-family="'Liberation Sans', Arial, Helvetica, sans-serif" font-size="9.3" text-anchor="end" fill="#111" >0.0</text>
<text x="588.9" y="264.7" font-family="'Liberation Sans', Arial, Helvetica, sans-serif" font-size="9.3" text-anchor="end" fill="#111" >−0.8</text>
<text x="588.9" y="275" font-family="'Liberation Sans', Arial, Helvetica, sans-serif" font-size="9.3" text-anchor="end" fill="#111" >0.8</text>
<text x="588.9" y="302.3" font-family="'Liberation Sans', Arial, Helvetica, sans-serif" font-size="9.3" text-anchor="end" fill="#111" >0.0</text>
<text x="588.9" y="329.6" font-family="'Liberation Sans', Arial, Helvetica, sans-serif" font-size="9.3" text-anchor="end" fill="#111" >−0.8</text>
<text transform="translate(569.2,237.5) rotate(-90)" text-anchor="middle" font-family="'Liberation Sans', Arial, Helvetica, sans-serif" font-size="9.6" fill="#111"><tspan font-style="italic">V</tspan><tspan font-size="5.6" dy="2.2">1</tspan><tspan dy="-2.2">(V)</tspan></text>
<text transform="translate(569.2,302.3) rotate(-90)" text-anchor="middle" font-family="'Liberation Sans', Arial, Helvetica, sans-serif" font-size="9.6" fill="#111"><tspan font-style="italic">V</tspan><tspan font-size="5.6" dy="2.2">2</tspan><tspan dy="-2.2">(V)</tspan></text>
<text x="593.9" y="341.6" font-family="'Liberation Sans', Arial, Helvetica, sans-serif" font-size="9" text-anchor="middle" fill="#111" font-weight="bold">0</text>
<text x="629.48" y="341.6" font-family="'Liberation Sans', Arial, Helvetica, sans-serif" font-size="9" text-anchor="middle" fill="#111" >2</text>
<text x="665.56" y="341.6" font-family="'Liberation Sans', Arial, Helvetica, sans-serif" font-size="9" text-anchor="middle" fill="#111" >4</text>
<text x="638.5" y="356.4" font-family="'Liberation Sans', Arial, Helvetica, sans-serif" font-size="9" text-anchor="middle" fill="#111" >Time–(s)</text>
<text x="-0.6" y="387.5" font-family="'Liberation Sans', Arial, Helvetica, sans-serif" font-weight="bold" font-size="16" fill="#000">g</text>
<rect x="11.1" y="395.1" width="65" height="62" fill="#F4B82F"/>
<g stroke="#F7C24C" stroke-width="0.4" fill="none"><rect x="17.7" y="401.4" width="52" height="49.5"/><line x1="17.7" y1="426.1" x2="69.7" y2="426.1"/></g>
<g fill="#FFF4D0"><circle cx="17.7" cy="408.6" r="0.85"/><circle cx="17.7" cy="418.9" r="0.85"/><circle cx="69.7" cy="433.1" r="0.85"/><circle cx="69.7" cy="443.3" r="0.85"/><circle cx="74.6" cy="396.6" r="0.6"/></g>
<rect x="29.1" y="400.3" width="3.2" height="2.2" fill="#2C313B"/>
<rect x="55.2" y="400.3" width="3.2" height="2.2" fill="#2C313B"/>
<rect x="29.1" y="425" width="3.2" height="2.2" fill="#2C313B"/>
<rect x="55.2" y="425" width="3.2" height="2.2" fill="#2C313B"/>
<rect x="29.1" y="449.8" width="3.2" height="2.2" fill="#2C313B"/>
<rect x="55.2" y="449.8" width="3.2" height="2.2" fill="#2C313B"/>
<rect x="16.6" y="412.4" width="2.2" height="3" fill="#2C313B"/>
<rect x="16.6" y="437.1" width="2.2" height="3" fill="#2C313B"/>
<rect x="68.6" y="412.4" width="2.2" height="3" fill="#2C313B"/>
<rect x="68.6" y="437.1" width="2.2" height="3" fill="#2C313B"/>
<g transform="translate(43.3,428.3) rotate(90)"><polygon points="0,-2.3 7.8,-2.3 6.2,-6.7 19.2,0 6.2,6.7 7.8,2.3 0,2.3" fill="#FFE7A0" stroke="#FFE7A0" stroke-width="2.2" stroke-linejoin="round" opacity="0.95" filter="url(#glow)"/><polygon points="0,-2.3 7.8,-2.3 6.2,-6.7 19.2,0 6.2,6.7 7.8,2.3 0,2.3" fill="url(#gArrow)"/></g>
<ellipse cx="17.7" cy="401.4" rx="3.3" ry="3.1" fill="#FDE09C"/>
<ellipse cx="43.6" cy="401.4" rx="3.3" ry="3.1" fill="#FDE09C"/>
<ellipse cx="69.7" cy="401.4" rx="3.3" ry="3.1" fill="#FDE09C"/>
<ellipse cx="17.7" cy="426.1" rx="3.3" ry="3.1" fill="#FDE09C"/>
<ellipse cx="43.6" cy="426.1" rx="3.3" ry="3.1" fill="#FDE09C"/>
<ellipse cx="69.7" cy="426.1" rx="3.3" ry="3.1" fill="#FDE09C"/>
<ellipse cx="17.7" cy="450.9" rx="3.3" ry="3.1" fill="#FDE09C"/>
<ellipse cx="43.6" cy="450.9" rx="3.3" ry="3.1" fill="#FDE09C"/>
<ellipse cx="69.7" cy="450.9" rx="3.3" ry="3.1" fill="#FDE09C"/>
<rect x="11.4" y="458.3" width="64.4" height="16.9" rx="3" ry="3" fill="url(#gLabel)" stroke="#EFD9A6" stroke-width="0.6"/>
<text x="21" y="468.7" font-family="'Liberation Sans', Arial, Helvetica, sans-serif" font-weight="bold" font-size="9" textLength="51.9" lengthAdjust="spacingAndGlyphs" fill="#111">Downwards</text>
<rect x="43.12" y="513.7" width="8.52" height="8.2" fill="url(#gRed)" stroke="#FF2020" stroke-width="0.5"/>
<line x1="43.12" y1="514.1" x2="51.64" y2="514.1" stroke="#FF2020" stroke-width="0.8"/>
<rect x="60.16" y="487.2" width="8.52" height="34.7" fill="url(#gBlue)" stroke="#20A8E8" stroke-width="0.5"/>
<line x1="60.16" y1="487.6" x2="68.68" y2="487.6" stroke="#20A8E8" stroke-width="0.8"/>
<path d="M34.6,491.82h2.4 M34.6,501.85h3.4 M34.6,511.88h2.4 M43.12,521.9v-1.8 M51.64,521.9v-1.8 M60.16,521.9v-1.8 M68.68,521.9v-1.8" stroke="#000" stroke-width="1.1" fill="none"/>
<rect x="34.6" y="481.8" width="42.6" height="40.1" fill="none" stroke="#000" stroke-width="1.6"/>
<text x="29.8" y="487.6" font-family="'Liberation Sans', Arial, Helvetica, sans-serif" font-size="9.3" text-anchor="end" fill="#111" >5</text>
<text x="29.8" y="505.15" font-family="'Liberation Sans', Arial, Helvetica, sans-serif" font-size="9.3" text-anchor="end" fill="#111" >2.5</text>
<text x="29.8" y="525.3" font-family="'Liberation Sans', Arial, Helvetica, sans-serif" font-size="9.3" text-anchor="end" fill="#111" >0.0</text>
<text x="34.9" y="534.4" font-family="'Liberation Sans', Arial, Helvetica, sans-serif" font-size="9" text-anchor="middle" fill="#111" >0</text>
<text x="51.64" y="534.4" font-family="'Liberation Sans', Arial, Helvetica, sans-serif" font-size="9" text-anchor="middle" fill="#111" >2</text>
<text x="68.38" y="534.4" font-family="'Liberation Sans', Arial, Helvetica, sans-serif" font-size="9" text-anchor="middle" fill="#111" >4</text>
<text x="55.9" y="548" font-family="'Liberation Sans', Arial, Helvetica, sans-serif" font-size="9.2" text-anchor="middle" fill="#111" >Time–(s)</text>
<text transform="translate(9.4,500.85) rotate(-90)" text-anchor="middle" font-family="'Liberation Sans', Arial, Helvetica, sans-serif" font-size="11.3" fill="#111"><tspan font-style="italic">V</tspan><tspan font-size="7.6" dy="1.2">2max</tspan><tspan dy="-1.2">/</tspan><tspan font-style="italic">V</tspan><tspan font-size="7.6" dy="1.2">1max</tspan></text>
<line x1="133.2" y1="426" x2="223.2" y2="426" stroke="#3a3a3a" stroke-width="0.9"/>
<line x1="133.2" y1="490" x2="223.2" y2="490" stroke="#3a3a3a" stroke-width="0.9"/>
<rect x="151.2" y="420.2" width="18" height="11.3" fill="#FF0000"/>
<rect x="187.2" y="422.4" width="18" height="7.4" fill="#00AEEF"/>
<rect x="151.2" y="484.4" width="18" height="11.4" fill="#FF0000"/>
<rect x="187.2" y="476" width="18" height="29.1" fill="#00AEEF"/>
<path d="M133.2,398.8h3.9 M133.2,412.4h2.5 M133.2,426h3.9 M133.2,439.6h2.5 M133.2,453.2h3.9 M133.2,462.7h3.9 M133.2,476.35h2.5 M133.2,490h3.9 M133.2,496.82h2.5 M133.2,503.65h3.4 M133.2,510.48h2.5 M133.2,517.3h3.9 M151.2,456v-2 M151.2,520.2v-2 M169.2,456v-2 M169.2,520.2v-2 M187.2,456v-2 M187.2,520.2v-2 M205.2,456v-2 M205.2,520.2v-2" stroke="#000" stroke-width="1.2" fill="none"/>
<path d="M133.2,395.3H223.2V520.2H133.2Z M133.2,456H223.2" stroke="#000" stroke-width="1.6" fill="none"/>
<text x="129.1" y="402.1" font-family="'Liberation Sans', Arial, Helvetica, sans-serif" font-size="9.3" text-anchor="end" fill="#111" >0.8</text>
<text x="129.1" y="429.3" font-family="'Liberation Sans', Arial, Helvetica, sans-serif" font-size="9.3" text-anchor="end" fill="#111" >0.0</text>
<text x="129.1" y="456.5" font-family="'Liberation Sans', Arial, Helvetica, sans-serif" font-size="9.3" text-anchor="end" fill="#111" >−0.8</text>
<text x="129.1" y="466" font-family="'Liberation Sans', Arial, Helvetica, sans-serif" font-size="9.3" text-anchor="end" fill="#111" >0.8</text>
<text x="129.1" y="493.3" font-family="'Liberation Sans', Arial, Helvetica, sans-serif" font-size="9.3" text-anchor="end" fill="#111" >0.0</text>
<text x="129.1" y="520.6" font-family="'Liberation Sans', Arial, Helvetica, sans-serif" font-size="9.3" text-anchor="end" fill="#111" >−0.8</text>
<text transform="translate(104.9,426.3) rotate(-90)" text-anchor="middle" font-family="'Liberation Sans', Arial, Helvetica, sans-serif" font-size="9.6" fill="#111"><tspan font-style="italic">V</tspan><tspan font-size="5.6" dy="2.2">1</tspan><tspan dy="-2.2">(V)</tspan></text>
<text transform="translate(104.9,490.3) rotate(-90)" text-anchor="middle" font-family="'Liberation Sans', Arial, Helvetica, sans-serif" font-size="9.6" fill="#111"><tspan font-style="italic">V</tspan><tspan font-size="5.6" dy="2.2">2</tspan><tspan dy="-2.2">(V)</tspan></text>
<text x="133.7" y="533" font-family="'Liberation Sans', Arial, Helvetica, sans-serif" font-size="9" text-anchor="middle" fill="#111" >0</text>
<text x="169.2" y="533" font-family="'Liberation Sans', Arial, Helvetica, sans-serif" font-size="9" text-anchor="middle" fill="#111" >2</text>
<text x="205.2" y="533" font-family="'Liberation Sans', Arial, Helvetica, sans-serif" font-size="9" text-anchor="middle" fill="#111" >4</text>
<text x="178.2" y="548.6" font-family="'Liberation Sans', Arial, Helvetica, sans-serif" font-size="10.5" text-anchor="middle" fill="#111" >Time–(s)</text>
<text x="241.6" y="387.8" font-family="'Liberation Sans', Arial, Helvetica, sans-serif" font-weight="bold" font-size="16" fill="#000">h</text>
<rect x="252" y="395" width="65" height="62" fill="#F4B82F"/>
<g stroke="#F7C24C" stroke-width="0.4" fill="none"><rect x="258.6" y="401.3" width="52" height="49.5"/><line x1="258.6" y1="426" x2="310.6" y2="426"/></g>
<g fill="#FFF4D0"><circle cx="258.6" cy="408.5" r="0.85"/><circle cx="258.6" cy="418.8" r="0.85"/><circle cx="310.6" cy="433" r="0.85"/><circle cx="310.6" cy="443.2" r="0.85"/><circle cx="315.5" cy="396.5" r="0.6"/></g>
<rect x="270" y="400.2" width="3.2" height="2.2" fill="#2C313B"/>
<rect x="296.1" y="400.2" width="3.2" height="2.2" fill="#2C313B"/>
<rect x="270" y="424.9" width="3.2" height="2.2" fill="#2C313B"/>
<rect x="296.1" y="424.9" width="3.2" height="2.2" fill="#2C313B"/>
<rect x="270" y="449.7" width="3.2" height="2.2" fill="#2C313B"/>
<rect x="296.1" y="449.7" width="3.2" height="2.2" fill="#2C313B"/>
<rect x="257.5" y="412.3" width="2.2" height="3" fill="#2C313B"/>
<rect x="257.5" y="437" width="2.2" height="3" fill="#2C313B"/>
<rect x="309.5" y="412.3" width="2.2" height="3" fill="#2C313B"/>
<rect x="309.5" y="437" width="2.2" height="3" fill="#2C313B"/>
<g transform="translate(280.4,430.6) rotate(136.12)"><polygon points="0,-2.3 13.99,-2.3 12.39,-6.7 25.39,0 12.39,6.7 13.99,2.3 0,2.3" fill="#FFE7A0" stroke="#FFE7A0" stroke-width="2.2" stroke-linejoin="round" opacity="0.95" filter="url(#glow)"/><polygon points="0,-2.3 13.99,-2.3 12.39,-6.7 25.39,0 12.39,6.7 13.99,2.3 0,2.3" fill="url(#gArrow)"/></g>
<ellipse cx="258.6" cy="401.3" rx="3.3" ry="3.1" fill="#FDE09C"/>
<ellipse cx="284.5" cy="401.3" rx="3.3" ry="3.1" fill="#FDE09C"/>
<ellipse cx="310.6" cy="401.3" rx="3.3" ry="3.1" fill="#FDE09C"/>
<ellipse cx="258.6" cy="426" rx="3.3" ry="3.1" fill="#FDE09C"/>
<ellipse cx="284.5" cy="426" rx="3.3" ry="3.1" fill="#FDE09C"/>
<ellipse cx="310.6" cy="426" rx="3.3" ry="3.1" fill="#FDE09C"/>
<ellipse cx="258.6" cy="450.8" rx="3.3" ry="3.1" fill="#FDE09C"/>
<ellipse cx="284.5" cy="450.8" rx="3.3" ry="3.1" fill="#FDE09C"/>
<ellipse cx="310.6" cy="450.8" rx="3.3" ry="3.1" fill="#FDE09C"/>
<rect x="252.3" y="458.2" width="64.4" height="16.9" rx="3" ry="3" fill="url(#gLabel)" stroke="#EFD9A6" stroke-width="0.6"/>
<text x="265.8" y="468.7" font-family="'Liberation Sans', Arial, Helvetica, sans-serif" font-weight="bold" font-size="9" textLength="37.9" lengthAdjust="spacingAndGlyphs" fill="#111">Lower left</text>
<rect x="284.16" y="506.5" width="8.56" height="15.4" fill="url(#gRed)" stroke="#FF2020" stroke-width="0.5"/>
<line x1="284.16" y1="506.9" x2="292.72" y2="506.9" stroke="#FF2020" stroke-width="0.8"/>
<rect x="301.28" y="487.9" width="8.56" height="34" fill="url(#gBlue)" stroke="#20A8E8" stroke-width="0.5"/>
<line x1="301.28" y1="488.3" x2="309.84" y2="488.3" stroke="#20A8E8" stroke-width="0.8"/>
<path d="M275.6,491.6h2.4 M275.6,501.7h3.4 M275.6,511.8h2.4 M284.16,521.9v-1.8 M292.72,521.9v-1.8 M301.28,521.9v-1.8 M309.84,521.9v-1.8" stroke="#000" stroke-width="1.1" fill="none"/>
<rect x="275.6" y="481.5" width="42.8" height="40.4" fill="none" stroke="#000" stroke-width="1.6"/>
<text x="271.3" y="487.3" font-family="'Liberation Sans', Arial, Helvetica, sans-serif" font-size="9.3" text-anchor="end" fill="#111" >3</text>
<text x="271.3" y="505" font-family="'Liberation Sans', Arial, Helvetica, sans-serif" font-size="9.3" text-anchor="end" fill="#111" >1.5</text>
<text x="271.3" y="525.3" font-family="'Liberation Sans', Arial, Helvetica, sans-serif" font-size="9.3" text-anchor="end" fill="#111" >0.0</text>
<text x="276" y="534.4" font-family="'Liberation Sans', Arial, Helvetica, sans-serif" font-size="9" text-anchor="middle" fill="#111" >0</text>
<text x="292.22" y="534.4" font-family="'Liberation Sans', Arial, Helvetica, sans-serif" font-size="9" text-anchor="middle" fill="#111" >2</text>
<text x="309.14" y="534.4" font-family="'Liberation Sans', Arial, Helvetica, sans-serif" font-size="9" text-anchor="middle" fill="#111" >4</text>
<text x="297" y="547.6" font-family="'Liberation Sans', Arial, Helvetica, sans-serif" font-size="9.2" text-anchor="middle" fill="#111" >Time–(s)</text>
<text transform="translate(251.8,503.9) rotate(-90)" text-anchor="middle" font-family="'Liberation Sans', Arial, Helvetica, sans-serif" font-size="11.3" fill="#111"><tspan font-style="italic">V</tspan><tspan font-size="7.6" dy="1.2">2max</tspan><tspan dy="-1.2">/</tspan><tspan font-style="italic">V</tspan><tspan font-size="7.6" dy="1.2">1max</tspan></text>
<line x1="368" y1="426" x2="458" y2="426" stroke="#3a3a3a" stroke-width="0.9"/>
<line x1="368" y1="490" x2="458" y2="490" stroke="#3a3a3a" stroke-width="0.9"/>
<rect x="386" y="420.2" width="18" height="11.3" fill="#FF0000"/>
<rect x="422" y="421.4" width="18" height="8.4" fill="#00AEEF"/>
<rect x="386" y="484.4" width="18" height="11.4" fill="#FF0000"/>
<rect x="422" y="481.1" width="18" height="18.5" fill="#00AEEF"/>
<path d="M368,398.8h3.9 M368,412.4h2.5 M368,426h3.9 M368,439.6h2.5 M368,453.2h3.9 M368,462.7h3.9 M368,476.35h2.5 M368,490h3.9 M368,496.82h2.5 M368,503.65h3.4 M368,510.48h2.5 M368,517.3h3.9 M386,456v-2 M386,520.2v-2 M404,456v-2 M404,520.2v-2 M422,456v-2 M422,520.2v-2 M440,456v-2 M440,520.2v-2" stroke="#000" stroke-width="1.2" fill="none"/>
<path d="M368,395.3H458V520.2H368Z M368,456H458" stroke="#000" stroke-width="1.6" fill="none"/>
<text x="363.5" y="402.1" font-family="'Liberation Sans', Arial, Helvetica, sans-serif" font-size="9.3" text-anchor="end" fill="#111" >0.8</text>
<text x="363.5" y="429.3" font-family="'Liberation Sans', Arial, Helvetica, sans-serif" font-size="9.3" text-anchor="end" fill="#111" >0.0</text>
<text x="363.5" y="456.5" font-family="'Liberation Sans', Arial, Helvetica, sans-serif" font-size="9.3" text-anchor="end" fill="#111" >−0.8</text>
<text x="363.5" y="466" font-family="'Liberation Sans', Arial, Helvetica, sans-serif" font-size="9.3" text-anchor="end" fill="#111" >0.8</text>
<text x="363.5" y="493.3" font-family="'Liberation Sans', Arial, Helvetica, sans-serif" font-size="9.3" text-anchor="end" fill="#111" >0.0</text>
<text x="363.5" y="520.6" font-family="'Liberation Sans', Arial, Helvetica, sans-serif" font-size="9.3" text-anchor="end" fill="#111" >−0.8</text>
<text transform="translate(343.2,428.1) rotate(-90)" text-anchor="middle" font-family="'Liberation Sans', Arial, Helvetica, sans-serif" font-size="9.6" fill="#111"><tspan font-style="italic">V</tspan><tspan font-size="5.6" dy="2.2">1</tspan><tspan dy="-2.2">(V)</tspan></text>
<text transform="translate(343.2,492.1) rotate(-90)" text-anchor="middle" font-family="'Liberation Sans', Arial, Helvetica, sans-serif" font-size="9.6" fill="#111"><tspan font-style="italic">V</tspan><tspan font-size="5.6" dy="2.2">2</tspan><tspan dy="-2.2">(V)</tspan></text>
<text x="368.5" y="533" font-family="'Liberation Sans', Arial, Helvetica, sans-serif" font-size="9" text-anchor="middle" fill="#111" >0</text>
<text x="404" y="533" font-family="'Liberation Sans', Arial, Helvetica, sans-serif" font-size="9" text-anchor="middle" fill="#111" >2</text>
<text x="440" y="533" font-family="'Liberation Sans', Arial, Helvetica, sans-serif" font-size="9" text-anchor="middle" fill="#111" >4</text>
<text x="413" y="546" font-family="'Liberation Sans', Arial, Helvetica, sans-serif" font-size="9" text-anchor="middle" fill="#111" >Time–(s)</text>
<text x="474.8" y="387.6" font-family="'Liberation Sans', Arial, Helvetica, sans-serif" font-weight="bold" font-size="16" fill="#000">i</text>
<rect x="484.8" y="394.5" width="65" height="62" fill="#F4B82F"/>
<g stroke="#F7C24C" stroke-width="0.4" fill="none"><rect x="491.4" y="400.8" width="52" height="49.5"/><line x1="491.4" y1="425.5" x2="543.4" y2="425.5"/></g>
<g fill="#FFF4D0"><circle cx="491.4" cy="408" r="0.85"/><circle cx="491.4" cy="418.3" r="0.85"/><circle cx="543.4" cy="432.5" r="0.85"/><circle cx="543.4" cy="442.7" r="0.85"/><circle cx="548.3" cy="396" r="0.6"/></g>
<rect x="502.8" y="399.7" width="3.2" height="2.2" fill="#2C313B"/>
<rect x="528.9" y="399.7" width="3.2" height="2.2" fill="#2C313B"/>
<rect x="502.8" y="424.4" width="3.2" height="2.2" fill="#2C313B"/>
<rect x="528.9" y="424.4" width="3.2" height="2.2" fill="#2C313B"/>
<rect x="502.8" y="449.2" width="3.2" height="2.2" fill="#2C313B"/>
<rect x="528.9" y="449.2" width="3.2" height="2.2" fill="#2C313B"/>
<rect x="490.3" y="411.8" width="2.2" height="3" fill="#2C313B"/>
<rect x="490.3" y="436.5" width="2.2" height="3" fill="#2C313B"/>
<rect x="542.3" y="411.8" width="2.2" height="3" fill="#2C313B"/>
<rect x="542.3" y="436.5" width="2.2" height="3" fill="#2C313B"/>
<g transform="translate(513.5,425.4) rotate(180)"><polygon points="0,-2.3 8,-2.3 6.4,-6.7 19.4,0 6.4,6.7 8,2.3 0,2.3" fill="#FFE7A0" stroke="#FFE7A0" stroke-width="2.2" stroke-linejoin="round" opacity="0.95" filter="url(#glow)"/><polygon points="0,-2.3 8,-2.3 6.4,-6.7 19.4,0 6.4,6.7 8,2.3 0,2.3" fill="url(#gArrow)"/></g>
<ellipse cx="491.4" cy="400.8" rx="3.3" ry="3.1" fill="#FDE09C"/>
<ellipse cx="517.3" cy="400.8" rx="3.3" ry="3.1" fill="#FDE09C"/>
<ellipse cx="543.4" cy="400.8" rx="3.3" ry="3.1" fill="#FDE09C"/>
<ellipse cx="491.4" cy="425.5" rx="3.3" ry="3.1" fill="#FDE09C"/>
<ellipse cx="517.3" cy="425.5" rx="3.3" ry="3.1" fill="#FDE09C"/>
<ellipse cx="543.4" cy="425.5" rx="3.3" ry="3.1" fill="#FDE09C"/>
<ellipse cx="491.4" cy="450.3" rx="3.3" ry="3.1" fill="#FDE09C"/>
<ellipse cx="517.3" cy="450.3" rx="3.3" ry="3.1" fill="#FDE09C"/>
<ellipse cx="543.4" cy="450.3" rx="3.3" ry="3.1" fill="#FDE09C"/>
<rect x="485.1" y="457.7" width="64.4" height="16.9" rx="3" ry="3" fill="url(#gLabel)" stroke="#EFD9A6" stroke-width="0.6"/>
<text x="498.8" y="468.7" font-family="'Liberation Sans', Arial, Helvetica, sans-serif" font-weight="bold" font-size="9" textLength="43.9" lengthAdjust="spacingAndGlyphs" fill="#111">Leftwards</text>
<rect x="517.46" y="497.2" width="8.46" height="24.7" fill="url(#gRed)" stroke="#FF2020" stroke-width="0.5"/>
<line x1="517.46" y1="497.6" x2="525.92" y2="497.6" stroke="#FF2020" stroke-width="0.8"/>
<rect x="534.38" y="483.7" width="8.46" height="38.2" fill="url(#gBlue)" stroke="#20A8E8" stroke-width="0.5"/>
<line x1="534.38" y1="484.1" x2="542.84" y2="484.1" stroke="#20A8E8" stroke-width="0.8"/>
<path d="M509,491.6h2.4 M509,501.7h3.4 M509,511.8h2.4 M517.46,521.9v-1.8 M525.92,521.9v-1.8 M534.38,521.9v-1.8 M542.84,521.9v-1.8" stroke="#000" stroke-width="1.1" fill="none"/>
<rect x="509" y="481.5" width="42.3" height="40.4" fill="none" stroke="#000" stroke-width="1.6"/>
<text x="505" y="487.3" font-family="'Liberation Sans', Arial, Helvetica, sans-serif" font-size="9.3" text-anchor="end" fill="#111" >1.6</text>
<text x="505" y="505" font-family="'Liberation Sans', Arial, Helvetica, sans-serif" font-size="9.3" text-anchor="end" fill="#111" >0.8</text>
<text x="505" y="525.3" font-family="'Liberation Sans', Arial, Helvetica, sans-serif" font-size="9.3" text-anchor="end" fill="#111" >0.0</text>
<text x="509.7" y="534.4" font-family="'Liberation Sans', Arial, Helvetica, sans-serif" font-size="9" text-anchor="middle" fill="#111" >0</text>
<text x="525.92" y="534.4" font-family="'Liberation Sans', Arial, Helvetica, sans-serif" font-size="9" text-anchor="middle" fill="#111" >2</text>
<text x="542.84" y="534.4" font-family="'Liberation Sans', Arial, Helvetica, sans-serif" font-size="9" text-anchor="middle" fill="#111" >4</text>
<text x="530.15" y="548" font-family="'Liberation Sans', Arial, Helvetica, sans-serif" font-size="9.2" text-anchor="middle" fill="#111" >Time–(s)</text>
<text transform="translate(484.1,501.5) rotate(-90)" text-anchor="middle" font-family="'Liberation Sans', Arial, Helvetica, sans-serif" font-size="11.3" fill="#111"><tspan font-style="italic">V</tspan><tspan font-size="7.6" dy="1.2">2max</tspan><tspan dy="-1.2">/</tspan><tspan font-style="italic">V</tspan><tspan font-size="7.6" dy="1.2">1max</tspan></text>
<line x1="593.4" y1="425.8" x2="684" y2="425.8" stroke="#3a3a3a" stroke-width="0.9"/>
<line x1="593.4" y1="490" x2="684" y2="490" stroke="#3a3a3a" stroke-width="0.9"/>
<rect x="611.52" y="420" width="18.12" height="11.4" fill="#FF0000"/>
<rect x="647.76" y="420.4" width="18.12" height="11.3" fill="#00AEEF"/>
<rect x="611.52" y="484" width="18.12" height="11.8" fill="#FF0000"/>
<rect x="647.76" y="483" width="18.12" height="14.9" fill="#00AEEF"/>
<path d="M593.4,398.6h3.9 M593.4,412.2h2.5 M593.4,425.8h3.9 M593.4,439.4h2.5 M593.4,453h3.9 M593.4,462.7h3.9 M593.4,476.35h2.5 M593.4,490h3.9 M593.4,496.82h2.5 M593.4,503.65h3.4 M593.4,510.48h2.5 M593.4,517.3h3.9 M611.52,456v-2 M611.52,519.8v-2 M629.64,456v-2 M629.64,519.8v-2 M647.76,456v-2 M647.76,519.8v-2 M665.88,456v-2 M665.88,519.8v-2" stroke="#000" stroke-width="1.2" fill="none"/>
<path d="M593.4,395.2H684V519.8H593.4Z M593.4,456H684" stroke="#000" stroke-width="1.6" fill="none"/>
<text x="588.7" y="401.9" font-family="'Liberation Sans', Arial, Helvetica, sans-serif" font-size="9.3" text-anchor="end" fill="#111" >0.8</text>
<text x="588.7" y="429.1" font-family="'Liberation Sans', Arial, Helvetica, sans-serif" font-size="9.3" text-anchor="end" fill="#111" >0.0</text>
<text x="588.7" y="456.3" font-family="'Liberation Sans', Arial, Helvetica, sans-serif" font-size="9.3" text-anchor="end" fill="#111" >−0.8</text>
<text x="588.7" y="466" font-family="'Liberation Sans', Arial, Helvetica, sans-serif" font-size="9.3" text-anchor="end" fill="#111" >0.8</text>
<text x="588.7" y="493.3" font-family="'Liberation Sans', Arial, Helvetica, sans-serif" font-size="9.3" text-anchor="end" fill="#111" >0.0</text>
<text x="588.7" y="520.6" font-family="'Liberation Sans', Arial, Helvetica, sans-serif" font-size="9.3" text-anchor="end" fill="#111" >−0.8</text>
<text transform="translate(568.8,428.8) rotate(-90)" text-anchor="middle" font-family="'Liberation Sans', Arial, Helvetica, sans-serif" font-size="9.6" fill="#111"><tspan font-style="italic">V</tspan><tspan font-size="5.6" dy="2.2">1</tspan><tspan dy="-2.2">(V)</tspan></text>
<text transform="translate(568.8,493) rotate(-90)" text-anchor="middle" font-family="'Liberation Sans', Arial, Helvetica, sans-serif" font-size="9.6" fill="#111"><tspan font-style="italic">V</tspan><tspan font-size="5.6" dy="2.2">2</tspan><tspan dy="-2.2">(V)</tspan></text>
<text x="593.9" y="532.6" font-family="'Liberation Sans', Arial, Helvetica, sans-serif" font-size="9" text-anchor="middle" fill="#111" font-weight="bold">0</text>
<text x="629.64" y="532.6" font-family="'Liberation Sans', Arial, Helvetica, sans-serif" font-size="9" text-anchor="middle" fill="#111" >2</text>
<text x="665.88" y="532.6" font-family="'Liberation Sans', Arial, Helvetica, sans-serif" font-size="9" text-anchor="middle" fill="#111" >4</text>
<text x="638.7" y="546.4" font-family="'Liberation Sans', Arial, Helvetica, sans-serif" font-size="9" text-anchor="middle" fill="#111" >Time–(s)</text>
<text x="-0.4" y="10.9" font-family="'Liberation Sans', Arial, Helvetica, sans-serif" font-weight="bold" font-size="16" fill="#000">a</text>
<text x="35.4" y="30.2" font-family="'Liberation Sans', Arial, Helvetica, sans-serif" font-size="10.7" text-anchor="start" fill="#111" >Stimulation1</text>
<text x="77.2" y="60.5" font-family="'Liberation Sans', Arial, Helvetica, sans-serif" font-size="10.7" text-anchor="start" fill="#111" >Stimulation2</text>
<path d="M48.3,73.3 L47.1,80.6 C45.5,81.5 44.5,82.2 43.8,83.1 C42,85 40.5,86.5 39.7,88 C38.5,89.8 36.8,91.5 36.6,93.3 C36.6,94.5 36.8,95.2 37.2,95.9 C37.9,97 38.6,97.6 39.3,98.2 C39.9,98.7 40.4,99.3 40.6,99.8 C40.4,100.4 40.1,101 40,101.7 L39.5,121.5 C39.5,124.5 40.8,127.6 41.9,127.8 C43,127.6 44.4,124.5 44.4,121.5 L45.6,105.5 C46,107 46.2,108 46.6,109 C47.2,110.2 48.2,110.7 49.2,110.6 C50.5,110.7 51.6,110.6 52.4,110.1 C52.8,109.5 52.9,108.7 52.9,108 C53.6,108.6 54.2,108.9 55,108.8 C56,108.7 57,108.2 57.6,107.4 C58.2,106.6 58.6,105.7 58.7,104.8 C59.4,105.6 60.3,106 61.3,105.9 C62.3,105.7 63,104.8 63.4,103.8 C64.5,102.8 65.2,101.4 65.5,100.1 C66.8,97 67.2,94 67.1,91.2 C66.9,87.5 65.6,84 64.2,81.4 L66.2,75.7 Z" fill="url(#gHand1)"/>
<path d="M48.3,73.3 L47.1,80.6 C45.5,81.5 44.5,82.2 43.8,83.1 C42,85 40.5,86.5 39.7,88 C38.5,89.8 36.8,91.5 36.6,93.3 C36.6,94.5 36.8,95.2 37.2,95.9 C37.9,97 38.6,97.6 39.3,98.2 C39.9,98.7 40.4,99.3 40.6,99.8 C40.4,100.4 40.1,101 40,101.7 L39.5,121.5 C39.5,124.5 40.8,127.6 41.9,127.8 C43,127.6 44.4,124.5 44.4,121.5 L45.6,105.5 C46,107 46.2,108 46.6,109 C47.2,110.2 48.2,110.7 49.2,110.6 C50.5,110.7 51.6,110.6 52.4,110.1 C52.8,109.5 52.9,108.7 52.9,108 C53.6,108.6 54.2,108.9 55,108.8 C56,108.7 57,108.2 57.6,107.4 C58.2,106.6 58.6,105.7 58.7,104.8 C59.4,105.6 60.3,106 61.3,105.9 C62.3,105.7 63,104.8 63.4,103.8 C64.5,102.8 65.2,101.4 65.5,100.1 C66.8,97 67.2,94 67.1,91.2 C66.9,87.5 65.6,84 64.2,81.4 L66.2,75.7" fill="none" stroke="#111" stroke-width="1.25" stroke-linejoin="round"/>
<path d="M44,95.4 C45,96 46,96.5 46.6,97.2 M45,100.6 C47,99.8 49.5,98.8 51.3,98.5 C52.8,97.8 54,96.5 55,95.4 M56.6,89.6 C56,92 55.3,93.8 54.5,94.8 C53.5,96.2 52.3,97.2 51.3,97.7 M44.5,105.3 C48,104.5 52,104 56,103.8 M52.9,108 C52.6,106 53.5,104.5 55,103.8 M58.7,104.8 C59,102 58.8,100 58.7,98.5 C58,97.5 56.5,96.8 55.5,96.9 M65.5,100.1 C65,99 64.5,98.7 63.4,98.5 C62,97 60.5,95.8 59.2,95.4 M45.6,105.5 C45.7,104.5 45.4,103.5 45,102.8" fill="none" stroke="#111" stroke-width="1.0" stroke-linecap="round"/>
<ellipse cx="52.4" cy="102.9" rx="2.1" ry="0.85" fill="#7d7d7d"/>
<g transform="translate(55.8,7.4) scale(0.93)">
<path d="M48.3,73.3 L47.1,80.6 C45.5,81.5 44.5,82.2 43.8,83.1 C42,85 40.5,86.5 39.7,88 C38.5,89.8 36.8,91.5 36.6,93.3 C36.6,94.5 36.8,95.2 37.2,95.9 C37.9,97 38.6,97.6 39.3,98.2 C39.9,98.7 40.4,99.3 40.6,99.8 C40.4,100.4 40.1,101 40,101.7 L39.5,121.5 C39.5,124.5 40.8,127.6 41.9,127.8 C43,127.6 44.4,124.5 44.4,121.5 L45.6,105.5 C46,107 46.2,108 46.6,109 C47.2,110.2 48.2,110.7 49.2,110.6 C50.5,110.7 51.6,110.6 52.4,110.1 C52.8,109.5 52.9,108.7 52.9,108 C53.6,108.6 54.2,108.9 55,108.8 C56,108.7 57,108.2 57.6,107.4 C58.2,106.6 58.6,105.7 58.7,104.8 C59.4,105.6 60.3,106 61.3,105.9 C62.3,105.7 63,104.8 63.4,103.8 C64.5,102.8 65.2,101.4 65.5,100.1 C66.8,97 67.2,94 67.1,91.2 C66.9,87.5 65.6,84 64.2,81.4 L66.2,75.7 Z" fill="url(#gHand2)"/>
<path d="M48.3,73.3 L47.1,80.6 C45.5,81.5 44.5,82.2 43.8,83.1 C42,85 40.5,86.5 39.7,88 C38.5,89.8 36.8,91.5 36.6,93.3 C36.6,94.5 36.8,95.2 37.2,95.9 C37.9,97 38.6,97.6 39.3,98.2 C39.9,98.7 40.4,99.3 40.6,99.8 C40.4,100.4 40.1,101 40,101.7 L39.5,121.5 C39.5,124.5 40.8,127.6 41.9,127.8 C43,127.6 44.4,124.5 44.4,121.5 L45.6,105.5 C46,107 46.2,108 46.6,109 C47.2,110.2 48.2,110.7 49.2,110.6 C50.5,110.7 51.6,110.6 52.4,110.1 C52.8,109.5 52.9,108.7 52.9,108 C53.6,108.6 54.2,108.9 55,108.8 C56,108.7 57,108.2 57.6,107.4 C58.2,106.6 58.6,105.7 58.7,104.8 C59.4,105.6 60.3,106 61.3,105.9 C62.3,105.7 63,104.8 63.4,103.8 C64.5,102.8 65.2,101.4 65.5,100.1 C66.8,97 67.2,94 67.1,91.2 C66.9,87.5 65.6,84 64.2,81.4 L66.2,75.7" fill="none" stroke="#BEBEBE" stroke-width="1.2" stroke-linejoin="round"/>
<path d="M44,95.4 C45,96 46,96.5 46.6,97.2 M45,100.6 C47,99.8 49.5,98.8 51.3,98.5 C52.8,97.8 54,96.5 55,95.4 M56.6,89.6 C56,92 55.3,93.8 54.5,94.8 C53.5,96.2 52.3,97.2 51.3,97.7 M44.5,105.3 C48,104.5 52,104 56,103.8 M52.9,108 C52.6,106 53.5,104.5 55,103.8 M58.7,104.8 C59,102 58.8,100 58.7,98.5 C58,97.5 56.5,96.8 55.5,96.9 M65.5,100.1 C65,99 64.5,98.7 63.4,98.5 C62,97 60.5,95.8 59.2,95.4 M45.6,105.5 C45.7,104.5 45.4,103.5 45,102.8" fill="none" stroke="#C6C6C6" stroke-width="0.85" stroke-linecap="round"/>
<ellipse cx="52.4" cy="102.9" rx="2.1" ry="0.85" fill="#CFCFCF"/>
</g>
<path d="M55,79 V37 H111.9" stroke="#FA0A0A" stroke-width="2" fill="none"/>
<circle cx="54.8" cy="79" r="2.8" fill="#FA0A0A"/><circle cx="111.9" cy="37" r="2.8" fill="#FA0A0A"/>
<path d="M119.2,38.5 H123.3 C123.4,32 124.2,29.2 125.3,29.2 C126.5,29.2 127.2,32 127.2,38.5 C127.2,45 127.9,48.5 129,48.5 C130.1,48.5 130.9,45 130.9,38.5 H134.6" stroke="#FA0A0A" stroke-width="2.4" fill="none" stroke-linejoin="round" stroke-linecap="round"/>
<path d="M104.8,78.8 V66.7 H146.8" stroke="#12A3E3" stroke-width="1.9" fill="none"/>
<circle cx="105.1" cy="78.7" r="3" fill="#12A3E3"/><circle cx="146.8" cy="66.7" r="2.6" fill="#12A3E3"/>
<path d="M153.9,67.1 H158.7 C158.8,61 159.6,57.8 160.7,57.8 C161.9,57.8 162.6,61 162.6,67.1 C162.6,73 163.3,75.6 164.4,75.6 C165.5,75.6 166.3,73 166.3,67.1 H169.8" stroke="#12A3E3" stroke-width="2.2" fill="none" stroke-linejoin="round" stroke-linecap="round"/>
<rect x="70.9" y="87.9" width="1.5" height="12.7" fill="#C4FDFF"/><rect x="74.1" y="87.9" width="2.6" height="12.7" fill="#A6F7FC"/><polygon points="78.2,87.9 79.9,87.9 79.9,82.6 87.8,94.5 79.9,106.7 79.9,100.6 78.2,100.6" fill="url(#gChev)"/>
<rect x="7.5" y="131.6" width="145.5" height="8.2" fill="#F1BF5E"/>
<g fill="#FCE2A2"><rect x="7.5" y="126" width="28.2" height="5.8"/><rect x="48.5" y="126" width="36.4" height="5.8"/><rect x="104.4" y="126" width="48.6" height="5.8"/></g>
<rect x="64.2" y="124.2" width="4.1" height="1.7" fill="#111"/><rect x="127" y="124.2" width="5.3" height="1.7" fill="#111"/>
<path d="M42.1,100.3 V121.5" stroke="#FA0A0A" stroke-width="1.6" stroke-dasharray="1.7,1.2" fill="none"/>
<polygon points="38.4,121 45.8,121 42.1,129" fill="#FA0A0A"/>
<path d="M94.6,96.4 V118.8" stroke="#12A3E3" stroke-width="1.6" stroke-dasharray="1.7,1.2" fill="none"/>
<polygon points="91,118.6 98.2,118.6 94.6,125.9" fill="#12A3E3"/>
<path d="M18,132 H141.5" stroke="#12A3E3" stroke-width="1.5" stroke-dasharray="1.9,1.2" fill="none"/>
<polygon points="12.3,132 18.4,128.6 18.4,135.4" fill="#12A3E3"/><polygon points="147.6,131.5 141.6,128.2 141.6,134.8" fill="#12A3E3"/>
<path d="M15.5,135.8 H143.8" stroke="#FA0A0A" stroke-width="1.6" stroke-dasharray="2.4,1.3" fill="none"/>
<polygon points="9.1,135.8 15.4,132.6 15.4,139" fill="#FA0A0A"/><polygon points="150,135.4 143.8,132.2 143.8,138.6" fill="#FA0A0A"/>
<path d="M42,129 C41,131.5 39.5,134 37,135.6 M42,129 C43,131.5 45,134.5 48,135.6" stroke="#FA0A0A" stroke-width="1.2" stroke-dasharray="1.5,1.1" fill="none"/>
<path d="M93.8,126.5 C93,129 91,131 86.5,131.8 M95.4,126.5 C96.2,129 98.5,131 103.5,131.8" stroke="#12A3E3" stroke-width="1.3" stroke-dasharray="1.5,1.1" fill="none"/>
<rect x="7.9" y="148.4" width="23.6" height="9.5" fill="#FDE2A0"/><rect x="85.4" y="148.4" width="23.6" height="9.5" fill="#F1BF5E"/>
<text x="41" y="156.9" font-family="'Liberation Sans', Arial, Helvetica, sans-serif" font-size="10.8" text-anchor="start" fill="#111" >PI film</text>
<text x="119" y="156.9" font-family="'Liberation Sans', Arial, Helvetica, sans-serif" font-size="10.8" text-anchor="start" fill="#111" >Electrode</text>
</svg></body></html>
